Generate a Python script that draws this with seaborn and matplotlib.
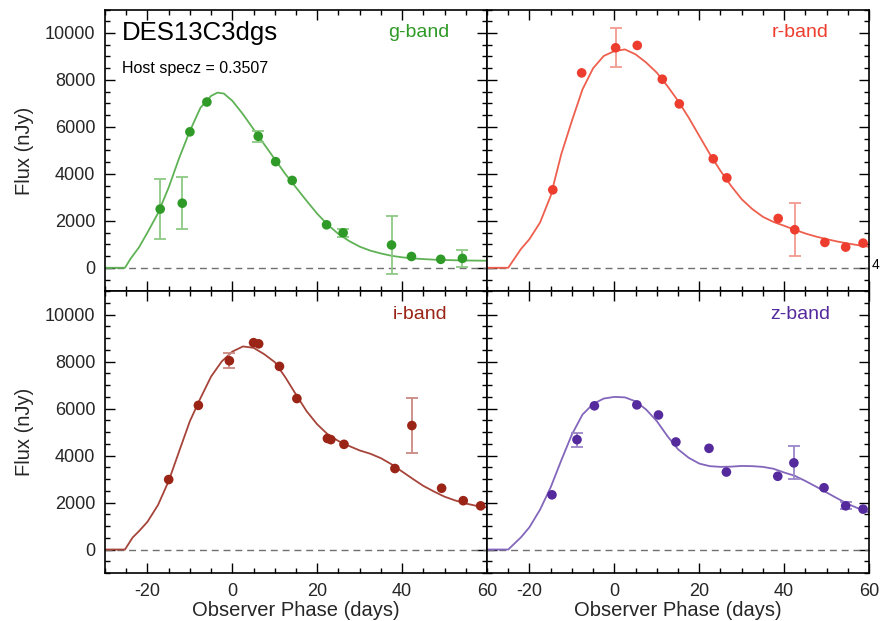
import numpy as np
import pandas as pd
import seaborn as sns
import matplotlib.pyplot as plt
from matplotlib.ticker import MultipleLocator

# observed photometry (phase in days, flux in nJy, 1-sigma error)
g_phase = [-17.0, -11.8, -10.0, -6.0, 6.1, 10.2, 14.1, 22.2, 26.1, 37.5, 42.2, 49.1, 54.2]
g_flux = [2500, 2750, 5790, 7060, 5600, 4520, 3720, 1830, 1490, 970, 480, 360, 400]
g_err = [1270, 1110, 0, 0, 230, 0, 0, 0, 170, 1220, 0, 0, 370]

r_phase = [-14.5, -7.7, 0.3, 5.4, 11.3, 15.3, 23.3, 26.5, 38.6, 42.5, 49.6, 54.5, 58.6]
r_flux = [3320, 8300, 9370, 9470, 8030, 6980, 4640, 3830, 2100, 1620, 1080, 880, 1050]
r_err = [0, 0, 840, 0, 0, 0, 0, 0, 0, 1135, 0, 0, 0]

i_phase = [-15.0, -8.0, -0.7, 5.0, 6.2, 11.1, 15.2, 22.4, 23.2, 26.3, 38.3, 42.3, 49.3, 54.4, 58.5]
i_flux = [2980, 6140, 8040, 8810, 8760, 7800, 6430, 4730, 4680, 4480, 3450, 5280, 2610, 2080, 1860]
i_err = [0, 0, 320, 0, 0, 0, 0, 0, 0, 0, 0, 1180, 0, 0, 0]

z_phase = [-14.7, -8.8, -4.7, 5.3, 10.4, 14.5, 22.3, 26.4, 38.5, 42.3, 49.4, 54.5, 58.6]
z_flux = [2330, 4680, 6120, 6160, 5730, 4580, 4310, 3300, 3120, 3690, 2630, 1860, 1720]
z_err = [0, 300, 0, 0, 0, 0, 0, 0, 0, 700, 0, 150, 0]

# fitted light-curve models
g_model_phase = [-30, -25.3, -24, -22, -20, -17.5, -15, -12.5, -10, -7.5, -5, -3.5, -2, 0, 2.5, 5,
                 7.5, 10, 12.5, 15, 17.5, 20, 22.5, 25, 27.5, 30, 32.5, 35, 37.5, 40, 42.5, 45,
                 47.5, 50, 55, 60]
g_model_flux = [0, 0, 380, 870, 1500, 2330, 3420, 4690, 5830, 6820, 7320, 7460, 7420, 7110, 6540, 5900,
                5260, 4625, 3990, 3420, 2850, 2300, 1830, 1440, 1140, 900, 730, 610, 510, 445, 400, 370,
                345, 330, 310, 300]

r_model_phase = [-30, -25, -23.5, -22, -20, -17.5, -15, -12.5, -10, -7.5, -5, -2.5, 0, 2.5, 5, 7.5,
                 10, 12.5, 15, 17.5, 20, 22.5, 25, 27.5, 30, 32.5, 35, 37.5, 40, 42.5, 45, 47.5,
                 50, 52.5, 55, 57.5, 60]
r_model_flux = [0, 0, 400, 800, 1220, 1930, 3060, 4840, 6260, 7600, 8500, 9020, 9230, 9300, 9090, 8740,
                8310, 7740, 7110, 6400, 5620, 4840, 4130, 3490, 2920, 2500, 2170, 1950, 1790, 1620, 1460, 1330,
                1220, 1120, 1035, 960, 895]

i_model_phase = [-30, -25.3, -23.5, -22, -20, -17.5, -15, -12.5, -10, -7.5, -5, -2.5, 0, 2.5, 5, 7.5,
                 10, 12.5, 15, 17.5, 20, 22.5, 25, 27.5, 30, 32.5, 35, 37.5, 40, 42.5, 45, 47.5,
                 50, 52.5, 55, 57.5, 60]
i_model_flux = [0, 0, 510, 780, 1180, 1900, 2920, 4200, 5470, 6450, 7370, 8010, 8430, 8650, 8590, 8320,
                7980, 7330, 6600, 5890, 5330, 4900, 4620, 4410, 4220, 4080, 3890, 3630, 3320, 3010, 2710, 2470,
                2250, 2090, 1960, 1860, 1790]

z_model_phase = [-30, -25, -23.5, -22, -20, -17.5, -15, -12.5, -10, -7.5, -5, -2.5, 0, 2.5, 5, 7.5,
                 10, 12.5, 15, 17.5, 20, 22.5, 25, 27.5, 30, 32.5, 35, 37.5, 40, 42.5, 45, 47.5,
                 50, 52.5, 55, 57.5, 60]
z_model_flux = [0, 0, 260, 520, 950, 1700, 2650, 3800, 4900, 5750, 6200, 6430, 6500, 6480, 6310, 5960,
                5470, 4830, 4270, 3910, 3660, 3550, 3520, 3530, 3560, 3550, 3520, 3440, 3280, 3140, 2920, 2680,
                2430, 2180, 1940, 1750, 1580]

bands = ["g-band", "r-band", "i-band", "z-band"]
colors = {
    "g-band": ("#2f9a27", "#5fb255", "#8dc985"),
    "r-band": ("#ec3d2f", "#ee5f4e", "#f29a8f"),
    "i-band": ("#9a2416", "#a6443a", "#c98a84"),
    "z-band": ("#552a9c", "#8366bb", "#9b86c8"),
}
data = {
    "g-band": (g_phase, g_flux, g_err, g_model_phase, g_model_flux),
    "r-band": (r_phase, r_flux, r_err, r_model_phase, r_model_flux),
    "i-band": (i_phase, i_flux, i_err, i_model_phase, i_model_flux),
    "z-band": (z_phase, z_flux, z_err, z_model_phase, z_model_flux),
}
label_x = {"g-band": 0.82, "r-band": 0.82, "i-band": 0.825, "z-band": 0.82}

sns.set_theme(style="ticks")
plt.rcParams["font.family"] = ["Liberation Sans", "DejaVu Sans"]
plt.rcParams["axes.unicode_minus"] = False

fig, axes = plt.subplots(2, 2, figsize=(8.81, 6.21), dpi=100, sharex=True, sharey=True)
fig.subplots_adjust(left=0.1192, right=0.9864, top=0.9847, bottom=0.0773, wspace=0, hspace=0)

for ax, band in zip(axes.flat, bands):
    ph, fl, er, mph, mfl = data[band]
    c_pt, c_line, c_err = colors[band]
    ax.axhline(0, color="#707070", lw=1.0, ls=(0, (5, 3.5)), zorder=1)
    model = pd.DataFrame({"phase": mph, "flux": mfl})
    sns.lineplot(data=model, x="phase", y="flux", ax=ax, color=c_line, lw=1.3,
                 sort=False, estimator=None, zorder=2, solid_joinstyle="round")
    err = np.array(er, dtype=float)
    has = err > 0
    ax.errorbar(np.array(ph)[has], np.array(fl)[has], yerr=err[has], fmt="none",
                ecolor=c_err, elinewidth=1.3, capsize=4, capthick=1.3, zorder=3)
    obs = pd.DataFrame({"phase": ph, "flux": fl})
    sns.scatterplot(data=obs, x="phase", y="flux", ax=ax, color=c_pt, s=48,
                    edgecolor="none", zorder=4)
    ax.text(label_x[band], 0.918, band, transform=ax.transAxes, color=c_pt, fontsize=14,
            ha="center", va="center")

    ax.set_xlim(-30, 60)
    ax.set_ylim(-1000, 11000)
    ax.xaxis.set_major_locator(MultipleLocator(20))
    ax.xaxis.set_minor_locator(MultipleLocator(5))
    ax.yaxis.set_major_locator(MultipleLocator(2000))
    ax.yaxis.set_minor_locator(MultipleLocator(500))
    ax.tick_params(which="both", direction="in", top=True, right=True, color="black", width=1.0)
    ax.tick_params(which="major", length=7, labelsize=13, pad=7)
    ax.tick_params(which="minor", length=3.5)
    for sp in ax.spines.values():
        sp.set_linewidth(1.2)
        sp.set_color("black")
    ax.set_xlabel("")
    ax.set_ylabel("")

for ax in axes[1]:
    ax.set_xlabel("Observer Phase (days)", fontsize=14.5, labelpad=1)
    ax.tick_params(axis="x", labelbottom=True)
for ax in axes[:, 0]:
    ax.set_ylabel("Flux (nJy)", fontsize=14.5, labelpad=8)
for ax in axes[:, 1]:
    ax.tick_params(axis="y", labelleft=False)

axes[0, 0].text(0.045, 0.916, "DES13C3dgs", transform=axes[0, 0].transAxes,
                fontsize=18.5, ha="left", va="center", color="black")
axes[0, 0].text(0.045, 0.791, "Host specz = 0.3507", transform=axes[0, 0].transAxes,
                fontsize=11.5, ha="left", va="center", color="black")

fig.text(872 / 881, 1 - 265 / 621, "4", fontsize=10, ha="left", va="center", color="black")

fig.savefig("out.png", dpi=100)
